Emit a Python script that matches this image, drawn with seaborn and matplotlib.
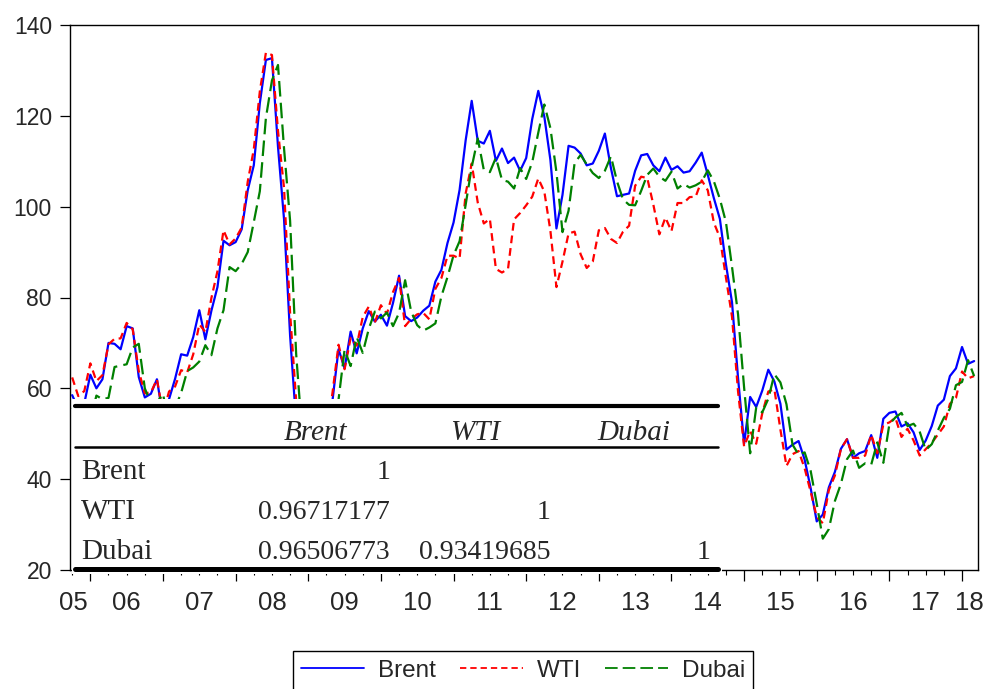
import numpy as np
import pandas as pd
import matplotlib
matplotlib.use("Agg")
import matplotlib.pyplot as plt
import seaborn as sns
from matplotlib.lines import Line2D
from matplotlib.patches import Rectangle
from matplotlib.ticker import MultipleLocator

# ---------------- data (monthly, Oct 2005 .. Mar 2018) ----------------
start_year = 2005.75

brent = [58.5, 55.5, 56.7,
         63.0, 60.0, 62.0, 70.0, 69.8, 68.6, 73.7, 73.2, 62.5, 58.0, 58.8, 62.0,
         53.7, 57.6, 62.1, 67.5, 67.2, 71.3, 77.2, 70.8, 77.1, 82.3, 92.5, 91.5,
         92.2, 95.0, 103.6, 109.1, 122.8, 132.3, 132.7, 113.2, 97.2, 71.6, 52.5, 40.0,
         43.4, 43.3, 46.5, 50.2, 57.3, 68.6, 64.4, 72.5, 67.7, 73.2, 77.0, 74.7,
         76.2, 73.8, 78.8, 84.8, 75.9, 74.8, 75.6, 77.1, 78.2, 83.5, 86.1, 92.0,
         96.5, 103.7, 114.6, 123.3, 114.5, 113.9, 116.7, 110.1, 112.8, 109.6, 110.8, 107.9,
         110.7, 119.3, 125.5, 119.8, 110.3, 95.2, 102.6, 113.4, 113.0, 111.7, 109.1, 109.5,
         112.3, 116.1, 108.5, 102.3, 102.6, 102.9, 107.9, 111.3, 111.6, 109.1, 107.8, 110.8,
         108.1, 108.9, 107.5, 107.8, 109.7, 111.9, 107.0, 101.9, 97.3, 87.3, 79.0, 62.3,
         47.8, 58.1, 55.9, 59.5, 64.1, 61.5, 56.6, 46.5, 47.6, 48.4, 44.3, 38.0,
         30.7, 32.2, 38.2, 41.6, 46.7, 48.8, 44.7, 45.7, 46.2, 49.7, 44.7, 53.3,
         54.6, 54.9, 51.6, 52.3, 50.3, 46.4, 48.5, 51.7, 56.2, 57.5, 62.7, 64.4,
         69.1, 65.4, 66.0]

wti = [62.4, 58.3, 59.4,
       65.5, 61.6, 62.9, 69.7, 70.9, 71.0, 74.4, 73.0, 63.8, 58.9, 59.1, 62.0,
       54.5, 59.3, 60.4, 64.0, 63.5, 67.5, 74.1, 72.4, 79.9, 85.8, 94.8, 91.7,
       93.0, 95.4, 105.5, 112.6, 125.4, 133.9, 133.4, 116.7, 104.1, 76.6, 57.3, 41.1,
       41.7, 39.1, 47.9, 49.7, 59.0, 69.6, 64.2, 71.1, 69.4, 75.7, 78.0, 74.5,
       78.3, 76.4, 81.2, 84.3, 73.7, 75.3, 76.3, 76.6, 75.2, 81.9, 84.3, 89.2,
       89.2, 88.6, 102.9, 109.5, 100.9, 96.3, 97.3, 86.3, 85.5, 86.3, 97.2, 98.6,
       100.3, 102.2, 106.2, 103.3, 94.7, 82.3, 87.9, 94.1, 94.5, 89.5, 86.5, 87.9,
       94.8, 95.3, 92.9, 92.0, 94.5, 95.8, 104.6, 106.6, 106.3, 100.5, 93.9, 97.6,
       94.6, 100.8, 100.8, 102.1, 102.2, 105.8, 103.6, 96.5, 93.2, 84.4, 75.8, 59.3,
       47.2, 50.6, 47.8, 54.5, 59.3, 59.8, 50.9, 42.9, 45.5, 46.2, 42.4, 37.2,
       31.7, 30.3, 37.6, 40.8, 46.7, 48.8, 44.7, 44.7, 45.2, 49.8, 45.7, 52.0,
       52.5, 53.5, 49.3, 51.1, 48.5, 45.2, 46.6, 48.0, 49.8, 51.6, 56.6, 57.9,
       63.7, 62.2, 62.7]

dubai = [55.8, 54.8, 51.9,
         53.0, 58.4, 57.6, 57.9, 64.7, 65.0, 65.3, 69.0, 69.8, 60.0, 56.7, 56.9,
         58.8, 51.9, 55.7, 59.0, 63.8, 64.6, 65.9, 69.5, 67.3, 73.2, 77.2, 86.7,
         85.8, 87.4, 90.0, 96.6, 103.4, 119.5, 127.8, 131.2, 112.8, 96.9, 67.6, 49.8,
         40.5, 43.9, 43.1, 45.6, 50.1, 57.5, 68.5, 64.9, 71.3, 67.8, 73.1, 76.9,
         75.4, 76.7, 73.7, 76.6, 83.8, 76.9, 73.9, 72.7, 73.4, 74.3, 80.3, 84.5,
         89.3, 92.4, 100.4, 108.7, 115.0, 108.1, 107.6, 110.8, 105.9, 105.5, 104.0, 108.5,
         106.1, 109.8, 116.3, 122.5, 117.3, 107.6, 94.4, 99.1, 109.6, 111.4, 109.3, 107.4,
         106.3, 107.9, 111.1, 105.6, 101.6, 100.4, 100.3, 103.5, 107.0, 108.4, 106.6, 105.7,
         107.7, 104.0, 105.0, 104.2, 104.7, 105.5, 108.0, 105.6, 101.7, 96.6, 86.8, 76.3,
         60.2, 45.7, 55.8, 54.7, 57.7, 63.1, 61.3, 56.5, 47.6, 45.4, 45.9, 41.8,
         34.6, 26.9, 29.0, 35.2, 39.0, 44.4, 46.3, 42.5, 43.5, 43.2, 48.1, 43.6,
         52.1, 53.6, 54.6, 51.7, 52.2, 50.5, 46.4, 47.7, 50.7, 53.5, 55.5, 60.7,
         61.4, 66.2, 62.7]

series_names = ["Brent", "WTI", "Dubai"]
year_labels = ["05", "06", "07", "08", "09", "10", "11", "12",
               "13", "14", "15", "16", "17", "18"]
corr_cols = ["Brent", "WTI", "Dubai"]
corr_rows = ["Brent", "WTI", "Dubai"]
corr_text = [["1", "", ""],
             ["0.96717177", "1", ""],
             ["0.96506773", "0.93419685", "1"]]

# ---------------- styles ----------------
colors = {"Brent": "#0000FF", "WTI": "#FF0000", "Dubai": "#008000"}
dash_map = {"Brent": "", "WTI": (3.5, 2.2), "Dubai": (7, 2.8)}

W, H = 990, 689
def fx(x):
    return x / W
def fy(y):
    return 1 - y / H

n = len(brent)
t = start_year + np.arange(n) / 12.0
df = pd.DataFrame({
    "t": np.concatenate([t, t, t]),
    "price": np.concatenate([brent, wti, dubai]),
    "series": ["Brent"] * n + ["WTI"] * n + ["Dubai"] * n,
})

sns.set_style("white")
plt.rcParams["font.family"] = ["Liberation Sans", "DejaVu Sans"]

fig = plt.figure(figsize=(9.9, 6.89), dpi=100)
ax = fig.add_axes([fx(70), fy(570), fx(978) - fx(70), fy(25) - fy(570)])

sns.lineplot(data=df, x="t", y="price", hue="series", style="series",
             hue_order=series_names, style_order=series_names,
             palette=colors, dashes=dash_map, linewidth=1.6,
             estimator=None, sort=False, legend=False, ax=ax)

ax.set_xlim(2005.72, 2018.22)
ax.set_ylim(20, 140)
ax.set_yticks(range(20, 141, 20))
ax.set_xlabel("")
ax.set_ylabel("")
for s in ax.spines.values():
    s.set_visible(True)
    s.set_color("black")
    s.set_linewidth(1.0)

ax.xaxis.set_major_locator(MultipleLocator(1.0))
ax.xaxis.set_minor_locator(MultipleLocator(0.25))
ax.tick_params(axis="x", which="major", direction="out", length=8, width=0.9,
               color="black", labelbottom=False, bottom=True)
ax.tick_params(axis="x", which="minor", direction="out", length=3.5, width=0.8,
               color="black", bottom=True)
ax.tick_params(axis="y", which="major", direction="out", length=7, width=0.9,
               color="black", left=True, pad=6, labelsize=16.5)

label_pos = [2005.77] + [y + 0.5 for y in range(2006, 2018)] + [2018.1]
sec = ax.secondary_xaxis("bottom")
sec.set_xticks(label_pos, labels=year_labels)
sec.tick_params(length=0, pad=15, labelsize=18.5)
sec.spines["bottom"].set_visible(False)

# ---------------- correlation table overlay ----------------
fig.add_artist(Rectangle((fx(72), fy(574)), fx(722) - fx(72), fy(399) - fy(574),
                         transform=fig.transFigure, facecolor="white",
                         edgecolor="none", zorder=5))
for yy, lw in [(406, 3.0), (447, 1.8), (569, 3.6)]:
    fig.add_artist(Line2D([fx(75), fx(718)], [fy(yy), fy(yy)],
                          transform=fig.transFigure, color="black", lw=lw,
                          zorder=6))

serif = ["Liberation Serif", "DejaVu Serif"]
header_x = [316, 475, 634]
for name, hx in zip(corr_cols, header_x):
    fig.text(fx(hx), fy(440), name, ha="center", va="baseline",
             family=serif, style="italic", fontsize=21, zorder=7)
row_y = [479, 519, 559]
col_right = [390, 550, 710]
for r, (rn, ry) in enumerate(zip(corr_rows, row_y)):
    fig.text(fx(81), fy(ry), rn, ha="left", va="baseline", family=serif,
             fontsize=21, zorder=7)
    for c, cx in enumerate(col_right):
        if corr_text[r][c]:
            fig.text(fx(cx), fy(ry), corr_text[r][c], ha="right",
                     va="baseline", family=serif, fontsize=20, zorder=7)

# ---------------- legend ----------------
handles = [Line2D([], [], color=colors[s], lw=1.3,
                  linestyle=(0, dash_map[s]) if dash_map[s] else "-")
           for s in series_names]
leg = fig.legend(handles, series_names, loc="upper center",
                 bbox_to_anchor=(fx(523), fy(651)), ncol=3, frameon=True,
                 fancybox=False, edgecolor="black", framealpha=1,
                 fontsize=17.5, handlelength=2.6, handletextpad=0.55,
                 columnspacing=1.0, borderpad=0.35, borderaxespad=0)
leg.get_frame().set_linewidth(1.0)

fig.savefig("out.png", dpi=100)
